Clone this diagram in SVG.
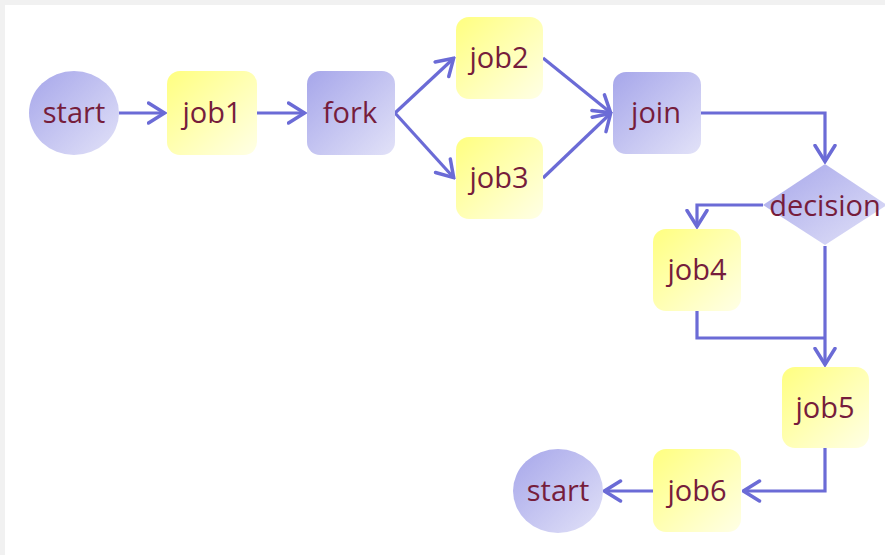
<svg xmlns="http://www.w3.org/2000/svg" width="885" height="555" viewBox="0 0 885 555">
  <defs>
    <linearGradient id="gYellow" x1="0" y1="0" x2="1" y2="1">
      <stop offset="0" stop-color="#ffff80"/>
      <stop offset="1" stop-color="#ffffe6"/>
    </linearGradient>
    <linearGradient id="gBlue" x1="0" y1="0" x2="1" y2="1">
      <stop offset="0" stop-color="#a6a6ea"/>
      <stop offset="1" stop-color="#e2e2f8"/>
    </linearGradient>
    <marker id="arrow" viewBox="0 0 20 24" refX="18.5" refY="12" markerWidth="20" markerHeight="24" markerUnits="userSpaceOnUse" orient="auto">
      <path d="M2,2 L18,12 L2,22" fill="none" stroke="#6b6bd6" stroke-width="3.5" stroke-linejoin="miter" stroke-linecap="round"/>
    </marker>
    <style>
      .job { fill: url(#gYellow); }
      .ctl { fill: url(#gBlue); }
      .lbl { font-family: "Open Sans", "Liberation Sans", sans-serif; font-size: 29px; fill: #761d3c; text-anchor: middle; dominant-baseline: central; }
      .edge { fill: none; stroke: #6b6bd6; stroke-width: 3.2; marker-end: url(#arrow); }
      .plain { fill: none; stroke: #6b6bd6; stroke-width: 3.2; }
    </style>
  </defs>

  <!-- frame -->
  <rect x="0" y="0" width="885" height="555" fill="#f1f1f1"/>
  <rect x="5" y="5" width="880" height="550" fill="#ffffff"/>

  <!-- connectors -->
  <g id="connectors">
    <path class="edge" d="M119,113 H165"/>
    <path class="edge" d="M257,113 H305"/>
    <path class="edge" d="M395,113 L454,58"/>
    <path class="edge" d="M395,113 L454,178"/>
    <path class="edge" d="M543,58 L611,113"/>
    <path class="edge" d="M543,178 L611,113"/>
    <path class="edge" d="M701,113 H825 V162"/>
    <path class="edge" d="M763,205 H697 V227"/>
    <path class="plain" d="M697,311 V338 H825"/>
    <path class="edge" d="M825,246 V365"/>
    <path class="edge" d="M825,448 V491 H743"/>
    <path class="edge" d="M653,491 H604"/>
  </g>

  <g id="start">
    <ellipse class="ctl" cx="74" cy="113" rx="45" ry="42"/>
    <text class="lbl" x="74" y="111">start</text>
  </g>
  <g id="job1">
    <rect class="job" x="167" y="71" width="90" height="84" rx="13"/>
    <text class="lbl" x="212" y="111">job1</text>
  </g>
  <g id="fork">
    <rect class="ctl" x="307" y="71" width="88" height="84" rx="13"/>
    <text class="lbl" x="350" y="111">fork</text>
  </g>
  <g id="job2">
    <rect class="job" x="456" y="17" width="87" height="82" rx="13"/>
    <text class="lbl" x="499" y="56">job2</text>
  </g>
  <g id="job3">
    <rect class="job" x="456" y="137" width="87" height="82" rx="13"/>
    <text class="lbl" x="499" y="176">job3</text>
  </g>
  <g id="join">
    <rect class="ctl" x="613" y="72" width="88" height="82" rx="13"/>
    <text class="lbl" x="656" y="111">join</text>
  </g>
  <g id="decision">
    <polygon class="ctl" points="825,164 887,205 825,245 763,205"/>
    <text class="lbl" x="825" y="204">decision</text>
  </g>
  <g id="job4">
    <rect class="job" x="653" y="229" width="88" height="82" rx="13"/>
    <text class="lbl" x="697" y="268">job4</text>
  </g>
  <g id="job5">
    <rect class="job" x="782" y="367" width="87" height="81" rx="13"/>
    <text class="lbl" x="825" y="406">job5</text>
  </g>
  <g id="job6">
    <rect class="job" x="653" y="449" width="88" height="83" rx="13"/>
    <text class="lbl" x="697" y="489">job6</text>
  </g>
  <g id="end">
    <ellipse class="ctl" cx="558" cy="491" rx="45" ry="42"/>
    <text class="lbl" x="558" y="489">start</text>
  </g>
</svg>
